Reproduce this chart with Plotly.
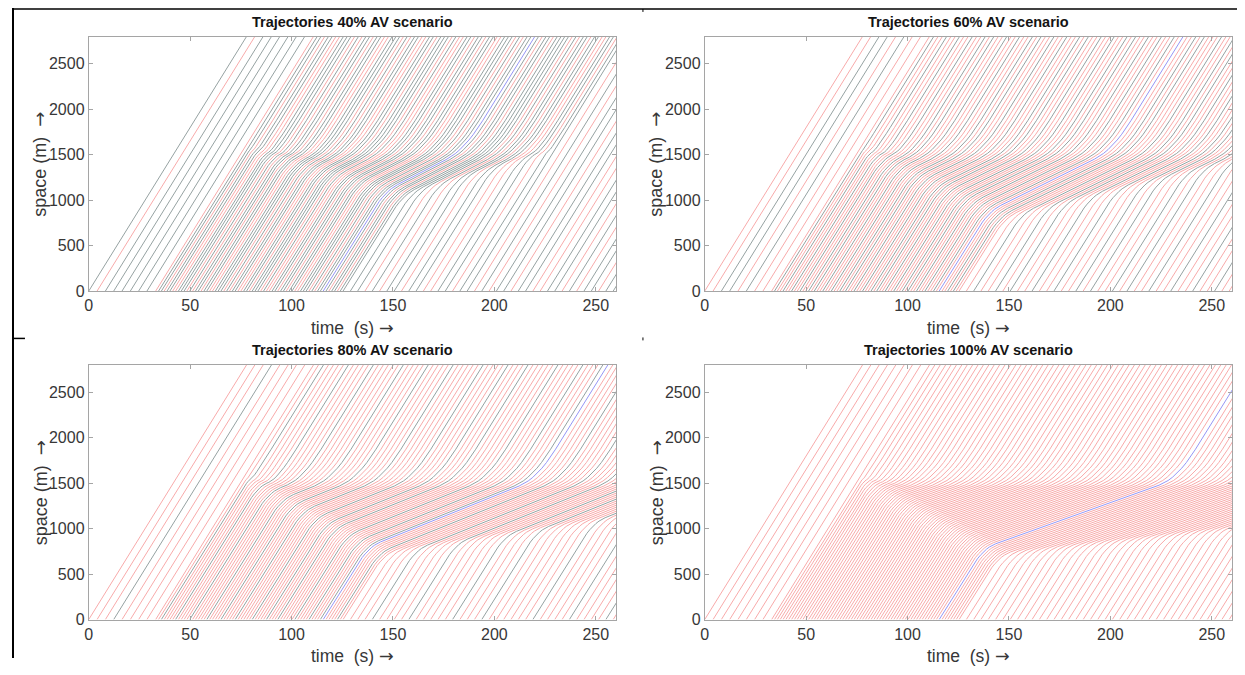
import plotly.graph_objects as go

# ---------------- data ----------------
ENTRY_TIMES = [
    0.0, 4.1, 8.2, 12.3, 16.4, 20.5, 24.6, 28.7,
    33.0, 34.4, 35.8, 37.2, 38.6, 40.0, 41.4, 42.8, 44.2, 45.6,
    47.0, 48.4, 49.8, 51.2, 52.6, 54.0, 55.4, 56.8, 58.2, 59.6,
    61.0, 62.4, 63.8, 65.2, 66.6, 68.0, 69.4, 70.8, 72.2, 73.6,
    75.0, 76.4, 77.8, 79.2, 80.6, 82.0, 83.4, 84.8, 86.2, 87.6,
    89.0, 90.4, 91.8, 93.2, 94.6, 96.0, 97.4, 98.8, 100.2, 101.6,
    103.0, 104.4, 105.8, 107.2, 108.6, 110.0, 111.4, 112.8, 114.2, 115.6,
    117.0, 118.4, 119.8, 121.2, 122.6, 124.0, 125.4,
    129.0, 132.6, 136.2, 139.8, 143.4, 147.0, 150.6, 154.2, 157.8, 161.4,
    165.0, 168.6, 172.2, 175.8, 179.4, 183.0, 186.6, 190.2, 193.8, 197.4,
    201.0, 204.6, 208.2, 211.8, 215.4, 219.0, 222.6, 226.2, 229.8, 233.4,
    237.0, 240.6, 244.2, 247.8, 251.4, 255.0, 258.6,
]
PROBE_INDEX = 67            # the blue vehicle (enters at 115.6 s)

TITLES = [
    "Trajectories 40% AV scenario",
    "Trajectories 60% AV scenario",
    "Trajectories 80% AV scenario",
    "Trajectories 100% AV scenario",
]

# H = human-driven (grey), A = automated (red)
TYPES_40 = ("HAHHHHHH"
            "AHHAHHAAHH" "HAHAHHAHHA" "AHHHAHAHHA" "AHHAHHHAHA" "AHHAHHAHHA"
            "AHHHAHAHHA" "HAHHAHH"
            "HHAHAHHAHH" "AAHHAHHAHA" "HHAHHAAHHA" "HAHHAHH")
TYPES_60 = ("AAHHAHAA"
            "AHAAHAAHAA" "HAAHAHAAHA" "AHAAHAHAAH" "AAHAAHAHAA" "HAAHAAHAHA"
            "AHAAHAAHAH" "AAHAHAA"
            "AHAAHAHAAH" "AAHAAHAHAA" "HAHAAHAAHA" "AHAAHAA")
TYPES_80 = ("AAAHAAAA"
            "AAHAAAAHAA" "AAHAAAAAHA" "AAAHAAAAHA" "AAAAHAAAAH" "AAAHAAAAAH"
            "AAAAHAAAHA" "AAAAHAA"
            "AAAHAAAAHA" "AAAAHAAAHA" "AAAAAHAAAA" "HAAAAHA")
TYPES_100 = "A" * len(ENTRY_TIMES)
VEHICLE_TYPES = [TYPES_40, TYPES_60, TYPES_80, TYPES_100]

FREE_SPEED = 36.0           # m/s
BOTTLENECK_X = 1550.0       # m
DISCHARGE_HEADWAY = [1.85, 2.12, 2.46, 2.66]   # s, per scenario
QUEUE_SPEED = [11.5, 11.0, 9.0, 8.0]           # m/s, per scenario

X_TICKS = [0, 50, 100, 150, 200, 250]
Y_TICKS = [0, 500, 1000, 1500, 2000, 2500]
X_RANGE = [0, 260]
Y_RANGE = [0, 2800]

# ---------------- styling ----------------
OFF = 8                      # browser default body margin
W, H = 1245 - 2 * OFF, 675 - 2 * OFF
PANELS = [  # plot-area pixel boxes in page pixels: left, right, top, bottom
    (85, 614, 37, 295),
    (703, 1232, 37, 295),
    (85, 614, 370, 628),
    (703, 1232, 370, 628),
]
COL_H = "rgb(150,162,162)"
COL_A = "rgb(248,170,170)"
COL_P = "rgb(150,150,245)"
AXIS_COL = "rgb(165,165,165)"
TEXT_COL = "rgb(55,55,55)"
FONT = "Liberation Sans, Arial, Helvetica, sans-serif"
ARROW = '<span style="font-family:DejaVu Sans">\u2192</span>'
X_END = 2900.0


def px(xp):
    return (xp - OFF) / W


def py(yp):
    return 1 - (yp - OFF) / H


def bezier_round(pts, radii):
    out = [pts[0]]
    for k in range(1, len(pts) - 1):
        q, p, r = pts[k - 1], pts[k], pts[k + 1]
        rad = radii[k - 1]
        fa = min(rad / max(p[0] - q[0], 1e-6), 0.45)
        fb = min(rad / max(r[0] - p[0], 1e-6), 0.45)
        a = (p[0] + (q[0] - p[0]) * fa, p[1] + (q[1] - p[1]) * fa)
        b = (p[0] + (r[0] - p[0]) * fb, p[1] + (r[1] - p[1]) * fb)
        n = 8
        for i in range(n + 1):
            s = i / n
            t = (1 - s) ** 2 * a[0] + 2 * s * (1 - s) * p[0] + s ** 2 * b[0]
            x = (1 - s) ** 2 * a[1] + 2 * s * (1 - s) * p[1] + s ** 2 * b[1]
            out.append((t, x))
    out.append(pts[-1])
    return out


def trajectories(panel):
    h = DISCHARGE_HEADWAY[panel]
    vq = QUEUE_SPEED[panel]
    vf = FREE_SPEED
    xb = BOTTLENECK_X
    result = []
    prev_exit = None
    for i, t0 in enumerate(ENTRY_TIMES):
        ta = t0 + xb / vf
        e = ta if prev_exit is None else max(ta, prev_exit + h)
        prev_exit = e
        if e - ta > 0.05:
            tj = (xb - vq * e + vf * t0) / (vf - vq)
            xj = vf * (tj - t0)
            t_end = e + (X_END - xb) / vf
            pts = [(t0, 0.0), (tj, xj), (e, xb), (t_end, X_END)]
            pts = bezier_round(pts, [6.0, 9.0])
        else:
            pts = [(t0, 0.0), (t0 + X_END / vf, X_END)]
        types = VEHICLE_TYPES[panel]
        kind = "P" if i == PROBE_INDEX else (types[i] if i < len(types) else "H")
        result.append((kind, pts))
    return result


fig = go.Figure()
annotations = []
for p in range(4):
    l, r, t, b = PANELS[p]
    xd = [px(l), px(r)]
    yd = [py(b), py(t)]
    xa = "xaxis" if p == 0 else f"xaxis{p + 1}"
    ya = "yaxis" if p == 0 else f"yaxis{p + 1}"
    xref = "x" if p == 0 else f"x{p + 1}"
    yref = "y" if p == 0 else f"y{p + 1}"
    common = dict(showgrid=False, zeroline=False, showline=True, linecolor=AXIS_COL,
                  linewidth=1, mirror="ticks", ticks="inside", ticklen=4,
                  tickcolor=AXIS_COL, tickfont=dict(family=FONT, size=16, color=TEXT_COL))
    fig.update_layout({
        xa: dict(domain=xd, range=X_RANGE, tickvals=X_TICKS, anchor=yref, **common),
        ya: dict(domain=yd, range=Y_RANGE, tickvals=Y_TICKS, anchor=xref, **common),
    })
    groups = {"A": ([], []), "H": ([], []), "P": ([], [])}
    for kind, pts in trajectories(p):
        gx, gy = groups[kind]
        gx.extend([q[0] for q in pts] + [None])
        gy.extend([q[1] for q in pts] + [None])
    for kind, col in (("A", COL_A), ("H", COL_H), ("P", COL_P)):
        gx, gy = groups[kind]
        if gx:
            fig.add_trace(go.Scatter(x=gx, y=gy, mode="lines", xaxis=xref, yaxis=yref,
                                     line=dict(color=col, width=1), hoverinfo="skip",
                                     showlegend=False))
    cx = px((l + r) / 2)
    annotations.append(dict(text="<b>" + TITLES[p] + "</b>", x=cx, y=py(t - 15),
                            xref="paper", yref="paper", showarrow=False,
                            font=dict(family=FONT, size=14.5, color="rgb(20,20,20)"),
                            xanchor="center", yanchor="middle"))
    annotations.append(dict(text="time \u00a0(s) " + ARROW, x=cx, y=py(b + 37),
                            xref="paper", yref="paper", showarrow=False,
                            font=dict(family=FONT, size=17.5, color=TEXT_COL),
                            xanchor="center", yanchor="middle"))
    annotations.append(dict(text="space (m) \u00a0" + ARROW, x=px(l - 49), y=py((t + b) / 2),
                            xref="paper", yref="paper", showarrow=False, textangle=-90,
                            font=dict(family=FONT, size=18, color=TEXT_COL),
                            xanchor="center", yanchor="middle"))

shapes = [
    dict(type="line", xref="paper", yref="paper", x0=px(8), x1=1, y0=py(9), y1=py(9),
         line=dict(color="black", width=1.5)),
    dict(type="line", xref="paper", yref="paper", x0=px(9), x1=px(9), y0=py(8), y1=0,
         line=dict(color="black", width=2)),
    dict(type="line", xref="paper", yref="paper", x0=px(8), x1=px(21), y0=py(343),
         y1=py(343), line=dict(color="black", width=1.5)),
    dict(type="line", xref="paper", yref="paper", x0=px(641), x1=px(641), y0=py(9),
         y1=py(12), line=dict(color="black", width=1)),
    dict(type="line", xref="paper", yref="paper", x0=px(641), x1=px(641), y0=py(342),
         y1=py(345), line=dict(color="black", width=1)),
]

fig.update_layout(width=W, height=H, margin=dict(l=0, r=0, t=0, b=0),
                  paper_bgcolor="white", plot_bgcolor="white",
                  annotations=annotations, shapes=shapes)

fig.write_html("out.html")
